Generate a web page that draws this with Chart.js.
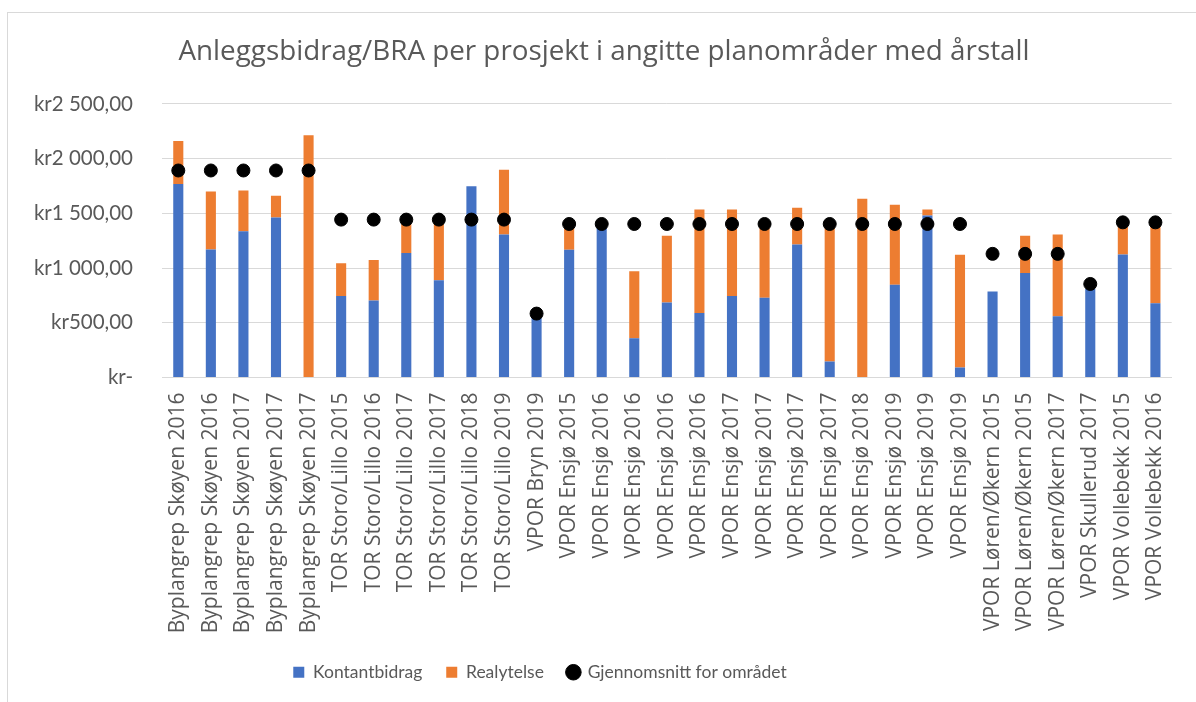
<!DOCTYPE html>
<html>
<head>
<meta charset="utf-8">
<script src="https://cdn.jsdelivr.net/npm/chart.js@4"></script>
<style>
  body { margin: 0; background: #fff; }
  #wrap { position: relative; width: 1196px; height: 702px; overflow: hidden; }
  #frame { position: absolute; left: 7px; top: 12px; right: 0; bottom: 0; border-top: 1px solid #d9d9d9; border-left: 1px solid #d9d9d9; }
  canvas { position: absolute; left: 0; top: 0; }
</style>
</head>
<body>
<div id="wrap">
  <div id="frame"></div>
  <canvas id="anleggChart" width="1196" height="702"></canvas>
</div>
<script>
// kategorier (prosjekt + år)
const prosjekter = [
  'Byplangrep Skøyen 2016', 'Byplangrep Skøyen 2016', 'Byplangrep Skøyen 2017', 'Byplangrep Skøyen 2017', 'Byplangrep Skøyen 2017',
  'TOR Storo/Lillo 2015', 'TOR Storo/Lillo 2016', 'TOR Storo/Lillo 2017', 'TOR Storo/Lillo 2017', 'TOR Storo/Lillo 2018', 'TOR Storo/Lillo 2019',
  'VPOR Bryn 2019',
  'VPOR Ensjø 2015', 'VPOR Ensjø 2016', 'VPOR Ensjø 2016', 'VPOR Ensjø 2016', 'VPOR Ensjø 2016', 'VPOR Ensjø 2017', 'VPOR Ensjø 2017',
  'VPOR Ensjø 2017', 'VPOR Ensjø 2017', 'VPOR Ensjø 2018', 'VPOR Ensjø 2019', 'VPOR Ensjø 2019', 'VPOR Ensjø 2019',
  'VPOR Løren/Økern 2015', 'VPOR Løren/Økern 2015', 'VPOR Løren/Økern 2017',
  'VPOR Skullerud 2017',
  'VPOR Vollebekk 2015', 'VPOR Vollebekk 2016'
];

const kontantbidrag = [1768, 1170, 1336, 1462, 0, 746, 704, 1139, 888, 1747, 1308, 560, 1167, 1375, 359, 685,
  590, 746, 728, 1216, 147, 0, 847, 1480, 92, 786, 955, 559, 810, 1124, 679];

const realytelse = [393, 531, 372, 199, 2214, 298, 371, 291, 532, 0, 590, 0, 223, 0, 612, 611,
  945, 789, 645, 335, 1225, 1634, 731, 55, 1029, 0, 341, 749, 0, 256, 711];

const gjennomsnitt = [1892, 1892, 1892, 1892, 1892, 1443, 1443, 1443, 1443, 1443, 1443, 584,
  1403, 1403, 1403, 1403, 1403, 1403, 1403, 1403, 1403, 1403, 1403, 1403, 1403,
  1130, 1130, 1130, 855, 1418, 1418];

const yTicks = [0, 500, 1000, 1500, 2000, 2500];

function krFormat(v) {
  if (v === 0) return 'kr-';
  const s = v.toFixed(2).replace('.', ',');
  const [heltall, des] = s.split(',');
  const grupper = heltall.replace(/\B(?=(\d{3})+(?!\d))/g, ' ');
  return 'kr' + grupper + ',' + des;
}

const tekstFarge = '#595959';

// flytter tittel og forklaring litt sidelengs, slik som i Excel-figuren
const flyttBokser = {
  id: 'flyttBokser',
  afterLayout(chart) {
    if (chart.legend) {
      chart.legend.left -= 46;
      chart.legend.right -= 46;
    }
    if (chart.titleBlock) {
      chart.titleBlock.left += 18;
      chart.titleBlock.right += 18;
    }
  }
};

new Chart(document.getElementById('anleggChart'), {
  type: 'bar',
  data: {
    labels: prosjekter,
    datasets: [
      {
        label: 'Kontantbidrag',
        data: kontantbidrag,
        backgroundColor: '#4472C4',
        pointStyle: 'rect',
        order: 2
      },
      {
        label: 'Realytelse',
        data: realytelse,
        backgroundColor: '#ED7D31',
        pointStyle: 'rect',
        order: 2
      },
      {
        type: 'line',
        label: 'Gjennomsnitt for området',
        data: gjennomsnitt,
        showLine: false,
        stack: 'snitt',
        pointStyle: 'circle',
        pointRadius: 6.5,
        pointHoverRadius: 6.5,
        backgroundColor: '#000',
        borderColor: '#000',
        order: 1
      }
    ]
  },
  plugins: [flyttBokser],
  options: {
    responsive: false,
    animation: false,
    layout: { padding: { left: 0, right: 24, top: 0, bottom: 11 } },
    datasets: {
      bar: { barPercentage: 0.31, categoryPercentage: 1 }
    },
    plugins: {
      title: {
        display: true,
        text: 'Anleggsbidrag/BRA per prosjekt i angitte planområder med årstall',
        color: tekstFarge,
        font: { family: 'Open Sans', size: 27.8, weight: 'normal' },
        padding: { top: 35.3, bottom: 35.3 }
      },
      legend: {
        display: true,
        position: 'bottom',
        labels: {
          usePointStyle: true,
          boxWidth: 11,
          boxHeight: 11,
          padding: 24,
          color: tekstFarge,
          font: { family: 'Lato', size: 17.5 },
          sort: (a, b) => a.datasetIndex - b.datasetIndex
        }
      },
      tooltip: { enabled: false }
    },
    scales: {
      x: {
        stacked: true,
        grid: { display: false, drawTicks: false },
        border: { display: true, color: '#d9d9d9' },
        ticks: {
          autoSkip: false,
          minRotation: 90,
          maxRotation: 90,
          padding: 15,
          color: tekstFarge,
          font: { family: 'Open Sans', size: 21 }
        },
        afterFit: (scale) => { scale.height = 262; }
      },
      y: {
        stacked: true,
        min: 0,
        max: 2500,
        afterBuildTicks: (scale) => { scale.ticks = yTicks.map(v => ({ value: v })); },
        grid: { color: '#d9d9d9', drawTicks: false },
        border: { display: false },
        ticks: {
          padding: 29,
          color: tekstFarge,
          font: { family: 'Lato', size: 20.5 },
          callback: (v) => krFormat(v)
        },
        afterFit: (scale) => { scale.width = 162; }
      }
    }
  }
});
</script>
</body>
</html>
